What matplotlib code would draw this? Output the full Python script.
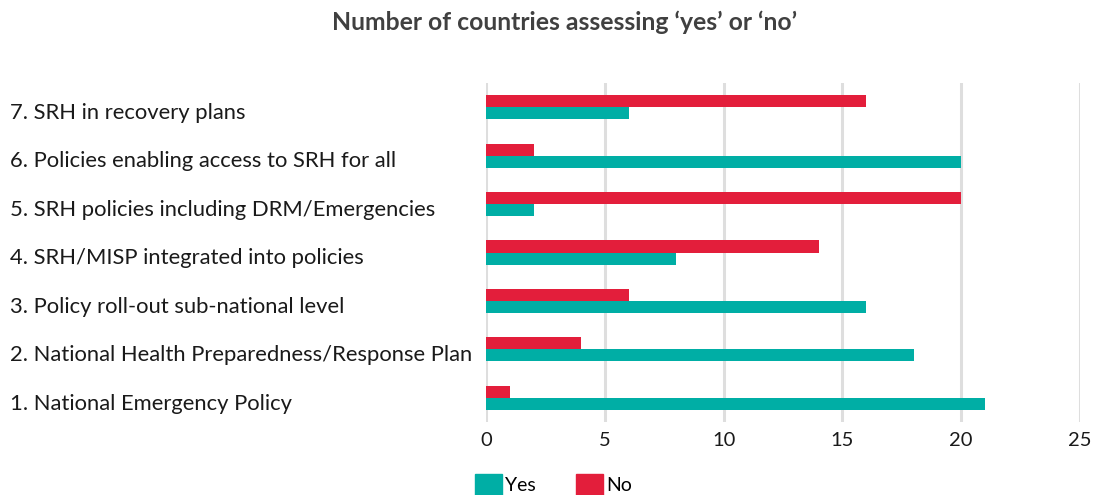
import matplotlib
matplotlib.use("Agg")
import matplotlib.pyplot as plt
from matplotlib.patches import Patch
from matplotlib.transforms import blended_transform_factory
import numpy as np

plt.rcParams['font.family'] = ['Lato', 'DejaVu Sans']

categories = [
    "1. National Emergency Policy",
    "2. National Health Preparedness/Response Plan",
    "3. Policy roll-out sub-national level",
    "4. SRH/MISP integrated into policies",
    "5. SRH policies including DRM/Emergencies",
    "6. Policies enabling access to SRH for all",
    "7. SRH in recovery plans",
]
yes_values = [21, 18, 16, 8, 2, 20, 6]
no_values = [1, 4, 6, 14, 20, 2, 16]
x_ticks = [0, 5, 10, 15, 20, 25]

YES_COLOR = "#00AEA5"
NO_COLOR = "#E31E3B"

fig = plt.figure(figsize=(10.94, 4.95), dpi=100)
ax = fig.add_axes([486 / 1094, 1 - 422 / 495, (1080 - 486) / 1094, (422 - 83) / 495])

y = np.arange(len(categories))
h = 0.25
ax.barh(y - h / 2, yes_values, height=h, color=YES_COLOR, label="Yes", zorder=3)
ax.barh(y + h / 2, no_values, height=h, color=NO_COLOR, label="No", zorder=3)

ax.set_xlim(0, 25)
ax.set_ylim(-0.5, len(categories) - 0.5)
ax.set_xticks(x_ticks)
ax.set_xticklabels([str(t) for t in x_ticks], fontsize=14.5, color="#1a1a1a")
ax.set_yticks([])
ax.tick_params(axis="x", length=0, pad=7)
for s in ax.spines.values():
    s.set_visible(False)
for t in x_ticks:
    ax.axvline(t, color="#DEDEDE", linewidth=2.2, zorder=1)

# category labels, left-aligned at the figure edge
label_tf = blended_transform_factory(fig.transFigure, ax.transData)
for yi, label in zip(y, categories):
    ax.text(10 / 1094, yi - 0.12, label, transform=label_tf,
            ha="left", va="center", fontsize=15.8, color="#1a1a1a")

fig.text(565 / 1094, 1 - 22 / 495, "Number of countries assessing \u2018yes\u2019 or \u2018no\u2019",
         ha="center", va="center", fontsize=17.8, fontweight="bold", color="#404040")

handles = [Patch(color=YES_COLOR, label="Yes"), Patch(color=NO_COLOR, label="No")]
fig.legend(handles=handles, loc="center", bbox_to_anchor=(553.5 / 1094, 1 - 484.5 / 495),
           ncol=2, frameon=False, fontsize=14, handlelength=1.39, handleheight=1.29,
           handletextpad=0.15, columnspacing=2.06, borderpad=0, borderaxespad=0)

fig.savefig("out.png", dpi=100)
